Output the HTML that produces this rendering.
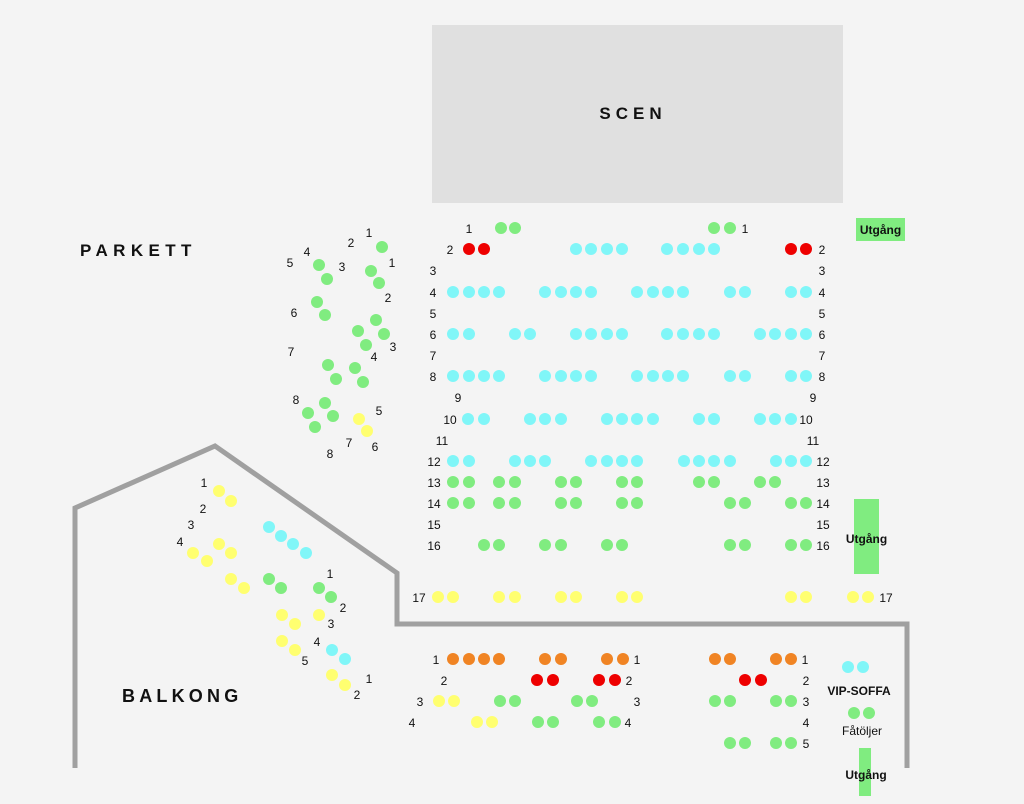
<!DOCTYPE html>
<html><head><meta charset="utf-8"><style>
html,body{margin:0;padding:0;background:#f4f4f4;}
svg{display:block;}
text{font-family:"Liberation Sans",Arial,sans-serif;font-size:12px;fill:#111;}
.b{font-weight:bold;}
.g{fill:#80ec80}.c{fill:#80f6f8}.y{fill:#ffff70}.r{fill:#ee0000}.o{fill:#f08424}
</style></head><body>
<svg width="1024" height="804" viewBox="0 0 1024 804" xmlns="http://www.w3.org/2000/svg">
<rect x="0" y="0" width="1024" height="804" fill="#f4f4f4"/>
<rect x="432" y="25" width="411" height="178" fill="#e0e0e0"/>
<text x="633" y="119" class="b" text-anchor="middle" style="font-size:17px;letter-spacing:5px">SCEN</text>
<text x="80" y="256" class="b" style="font-size:17px;letter-spacing:5.4px">PARKETT</text>
<text x="122" y="702" class="b" style="font-size:18px;letter-spacing:4.2px">BALKONG</text>
<rect x="856" y="218" width="49" height="23" fill="#80ec80"/>
<text x="880.5" y="234" class="b" text-anchor="middle">Utgång</text>
<rect x="854" y="499" width="25" height="75" fill="#80ec80"/>
<text x="866.5" y="543" class="b" text-anchor="middle">Utgång</text>
<rect x="859" y="748" width="12" height="48" fill="#80ec80"/>
<text x="866" y="779" class="b" text-anchor="middle">Utgång</text>
<polyline points="75,768 75,508 215,446 397,573 397,624 907,624 907,768" fill="none" stroke="#a0a0a0" stroke-width="5"/>

<g>
<circle class="g" cx="501" cy="228" r="6"/><circle class="g" cx="515" cy="228" r="6"/>
<circle class="g" cx="714" cy="228" r="6"/><circle class="g" cx="730" cy="228" r="6"/>
<circle class="r" cx="469" cy="249" r="6"/><circle class="r" cx="484" cy="249" r="6"/>
<circle class="c" cx="576" cy="249" r="6"/><circle class="c" cx="591" cy="249" r="6"/><circle class="c" cx="607" cy="249" r="6"/><circle class="c" cx="622" cy="249" r="6"/>
<circle class="c" cx="667" cy="249" r="6"/><circle class="c" cx="683" cy="249" r="6"/><circle class="c" cx="699" cy="249" r="6"/><circle class="c" cx="714" cy="249" r="6"/>
<circle class="r" cx="791" cy="249" r="6"/><circle class="r" cx="806" cy="249" r="6"/>
<circle class="c" cx="453" cy="292" r="6"/><circle class="c" cx="469" cy="292" r="6"/><circle class="c" cx="484" cy="292" r="6"/><circle class="c" cx="499" cy="292" r="6"/>
<circle class="c" cx="545" cy="292" r="6"/><circle class="c" cx="561" cy="292" r="6"/><circle class="c" cx="576" cy="292" r="6"/><circle class="c" cx="591" cy="292" r="6"/>
<circle class="c" cx="637" cy="292" r="6"/><circle class="c" cx="653" cy="292" r="6"/><circle class="c" cx="668" cy="292" r="6"/><circle class="c" cx="683" cy="292" r="6"/>
<circle class="c" cx="730" cy="292" r="6"/><circle class="c" cx="745" cy="292" r="6"/>
<circle class="c" cx="791" cy="292" r="6"/><circle class="c" cx="806" cy="292" r="6"/>
<circle class="c" cx="453" cy="334" r="6"/><circle class="c" cx="469" cy="334" r="6"/>
<circle class="c" cx="515" cy="334" r="6"/><circle class="c" cx="530" cy="334" r="6"/>
<circle class="c" cx="576" cy="334" r="6"/><circle class="c" cx="591" cy="334" r="6"/><circle class="c" cx="607" cy="334" r="6"/><circle class="c" cx="622" cy="334" r="6"/>
<circle class="c" cx="667" cy="334" r="6"/><circle class="c" cx="683" cy="334" r="6"/><circle class="c" cx="699" cy="334" r="6"/><circle class="c" cx="714" cy="334" r="6"/>
<circle class="c" cx="760" cy="334" r="6"/><circle class="c" cx="775" cy="334" r="6"/><circle class="c" cx="791" cy="334" r="6"/><circle class="c" cx="806" cy="334" r="6"/>
<circle class="c" cx="453" cy="376" r="6"/><circle class="c" cx="469" cy="376" r="6"/><circle class="c" cx="484" cy="376" r="6"/><circle class="c" cx="499" cy="376" r="6"/>
<circle class="c" cx="545" cy="376" r="6"/><circle class="c" cx="561" cy="376" r="6"/><circle class="c" cx="576" cy="376" r="6"/><circle class="c" cx="591" cy="376" r="6"/>
<circle class="c" cx="637" cy="376" r="6"/><circle class="c" cx="653" cy="376" r="6"/><circle class="c" cx="668" cy="376" r="6"/><circle class="c" cx="683" cy="376" r="6"/>
<circle class="c" cx="730" cy="376" r="6"/><circle class="c" cx="745" cy="376" r="6"/>
<circle class="c" cx="791" cy="376" r="6"/><circle class="c" cx="806" cy="376" r="6"/>
<circle class="c" cx="468" cy="419" r="6"/><circle class="c" cx="484" cy="419" r="6"/>
<circle class="c" cx="530" cy="419" r="6"/><circle class="c" cx="545" cy="419" r="6"/><circle class="c" cx="561" cy="419" r="6"/>
<circle class="c" cx="607" cy="419" r="6"/><circle class="c" cx="622" cy="419" r="6"/><circle class="c" cx="637" cy="419" r="6"/><circle class="c" cx="653" cy="419" r="6"/>
<circle class="c" cx="699" cy="419" r="6"/><circle class="c" cx="714" cy="419" r="6"/>
<circle class="c" cx="760" cy="419" r="6"/><circle class="c" cx="775" cy="419" r="6"/><circle class="c" cx="791" cy="419" r="6"/>
<circle class="c" cx="453" cy="461" r="6"/><circle class="c" cx="469" cy="461" r="6"/>
<circle class="c" cx="515" cy="461" r="6"/><circle class="c" cx="530" cy="461" r="6"/><circle class="c" cx="545" cy="461" r="6"/>
<circle class="c" cx="591" cy="461" r="6"/><circle class="c" cx="607" cy="461" r="6"/><circle class="c" cx="622" cy="461" r="6"/><circle class="c" cx="637" cy="461" r="6"/>
<circle class="c" cx="684" cy="461" r="6"/><circle class="c" cx="699" cy="461" r="6"/><circle class="c" cx="714" cy="461" r="6"/><circle class="c" cx="730" cy="461" r="6"/>
<circle class="c" cx="776" cy="461" r="6"/><circle class="c" cx="791" cy="461" r="6"/><circle class="c" cx="806" cy="461" r="6"/>
<circle class="g" cx="453" cy="482" r="6"/><circle class="g" cx="469" cy="482" r="6"/>
<circle class="g" cx="499" cy="482" r="6"/><circle class="g" cx="515" cy="482" r="6"/>
<circle class="g" cx="561" cy="482" r="6"/><circle class="g" cx="576" cy="482" r="6"/>
<circle class="g" cx="622" cy="482" r="6"/><circle class="g" cx="637" cy="482" r="6"/>
<circle class="g" cx="699" cy="482" r="6"/><circle class="g" cx="714" cy="482" r="6"/>
<circle class="g" cx="760" cy="482" r="6"/><circle class="g" cx="775" cy="482" r="6"/>
<circle class="g" cx="453" cy="503" r="6"/><circle class="g" cx="469" cy="503" r="6"/>
<circle class="g" cx="499" cy="503" r="6"/><circle class="g" cx="515" cy="503" r="6"/>
<circle class="g" cx="561" cy="503" r="6"/><circle class="g" cx="576" cy="503" r="6"/>
<circle class="g" cx="622" cy="503" r="6"/><circle class="g" cx="637" cy="503" r="6"/>
<circle class="g" cx="730" cy="503" r="6"/><circle class="g" cx="745" cy="503" r="6"/>
<circle class="g" cx="791" cy="503" r="6"/><circle class="g" cx="806" cy="503" r="6"/>
<circle class="g" cx="484" cy="545" r="6"/><circle class="g" cx="499" cy="545" r="6"/>
<circle class="g" cx="545" cy="545" r="6"/><circle class="g" cx="561" cy="545" r="6"/>
<circle class="g" cx="607" cy="545" r="6"/><circle class="g" cx="622" cy="545" r="6"/>
<circle class="g" cx="730" cy="545" r="6"/><circle class="g" cx="745" cy="545" r="6"/>
<circle class="g" cx="791" cy="545" r="6"/><circle class="g" cx="806" cy="545" r="6"/>
<circle class="y" cx="438" cy="597" r="6"/><circle class="y" cx="453" cy="597" r="6"/>
<circle class="y" cx="499" cy="597" r="6"/><circle class="y" cx="515" cy="597" r="6"/>
<circle class="y" cx="561" cy="597" r="6"/><circle class="y" cx="576" cy="597" r="6"/>
<circle class="y" cx="622" cy="597" r="6"/><circle class="y" cx="637" cy="597" r="6"/>
<circle class="y" cx="791" cy="597" r="6"/><circle class="y" cx="806" cy="597" r="6"/>
<circle class="y" cx="853" cy="597" r="6"/><circle class="y" cx="868" cy="597" r="6"/>
</g>
<g text-anchor="middle">
<text x="469" y="233">1</text><text x="745" y="233">1</text>
<text x="450" y="254">2</text><text x="822" y="254">2</text>
<text x="433" y="275">3</text><text x="822" y="275">3</text>
<text x="433" y="297">4</text><text x="822" y="297">4</text>
<text x="433" y="318">5</text><text x="822" y="318">5</text>
<text x="433" y="339">6</text><text x="822" y="339">6</text>
<text x="433" y="360">7</text><text x="822" y="360">7</text>
<text x="433" y="381">8</text><text x="822" y="381">8</text>
<text x="458" y="402">9</text><text x="813" y="402">9</text>
<text x="450" y="424">10</text><text x="806" y="424">10</text>
<text x="442" y="445">11</text><text x="813" y="445">11</text>
<text x="434" y="466">12</text><text x="823" y="466">12</text>
<text x="434" y="487">13</text><text x="823" y="487">13</text>
<text x="434" y="508">14</text><text x="823" y="508">14</text>
<text x="434" y="529">15</text><text x="823" y="529">15</text>
<text x="434" y="550">16</text><text x="823" y="550">16</text>
<text x="419" y="602">17</text><text x="886" y="602">17</text>
</g>

<g>
<circle class="g" cx="382" cy="247" r="6"/><circle class="g" cx="371" cy="271" r="6"/><circle class="g" cx="379" cy="283" r="6"/>
<circle class="g" cx="319" cy="265" r="6"/><circle class="g" cx="327" cy="279" r="6"/>
<circle class="g" cx="317" cy="302" r="6"/><circle class="g" cx="325" cy="315" r="6"/>
<circle class="g" cx="376" cy="320" r="6"/><circle class="g" cx="358" cy="331" r="6"/><circle class="g" cx="384" cy="334" r="6"/><circle class="g" cx="366" cy="345" r="6"/>
<circle class="g" cx="328" cy="365" r="6"/><circle class="g" cx="336" cy="379" r="6"/>
<circle class="g" cx="355" cy="368" r="6"/><circle class="g" cx="363" cy="382" r="6"/>
<circle class="g" cx="325" cy="403" r="6"/><circle class="g" cx="308" cy="413" r="6"/><circle class="g" cx="333" cy="416" r="6"/><circle class="g" cx="315" cy="427" r="6"/>
<circle class="y" cx="359" cy="419" r="6"/><circle class="y" cx="367" cy="431" r="6"/>
</g>
<g text-anchor="middle">
<text x="369" y="237">1</text><text x="351" y="247">2</text><text x="307" y="256">4</text><text x="290" y="267">5</text>
<text x="342" y="271">3</text><text x="392" y="267">1</text><text x="388" y="302">2</text><text x="294" y="317">6</text>
<text x="393" y="351">3</text><text x="374" y="361">4</text><text x="291" y="356">7</text><text x="296" y="404">8</text>
<text x="379" y="415">5</text><text x="349" y="447">7</text><text x="375" y="451">6</text><text x="330" y="458">8</text>
</g>

<g>
<circle class="y" cx="219" cy="491" r="6"/><circle class="y" cx="231" cy="501" r="6"/>
<circle class="y" cx="193" cy="553" r="6"/><circle class="y" cx="207" cy="561" r="6"/>
<circle class="y" cx="219" cy="544" r="6"/><circle class="y" cx="231" cy="553" r="6"/>
<circle class="y" cx="231" cy="579" r="6"/><circle class="y" cx="244" cy="588" r="6"/>
<circle class="c" cx="269" cy="527" r="6"/><circle class="c" cx="281" cy="536" r="6"/><circle class="c" cx="293" cy="544" r="6"/><circle class="c" cx="306" cy="553" r="6"/>
<circle class="g" cx="269" cy="579" r="6"/><circle class="g" cx="281" cy="588" r="6"/>
<circle class="g" cx="319" cy="588" r="6"/><circle class="g" cx="331" cy="597" r="6"/>
<circle class="y" cx="282" cy="615" r="6"/><circle class="y" cx="295" cy="624" r="6"/><circle class="y" cx="319" cy="615" r="6"/>
<circle class="y" cx="282" cy="641" r="6"/><circle class="y" cx="295" cy="650" r="6"/>
<circle class="c" cx="332" cy="650" r="6"/><circle class="c" cx="345" cy="659" r="6"/>
<circle class="y" cx="332" cy="675" r="6"/><circle class="y" cx="345" cy="685" r="6"/>
</g>
<g text-anchor="middle">
<text x="204" y="487">1</text><text x="203" y="513">2</text><text x="191" y="529">3</text><text x="180" y="546">4</text>
<text x="330" y="578">1</text><text x="343" y="612">2</text><text x="331" y="628">3</text><text x="317" y="646">4</text>
<text x="305" y="665">5</text><text x="369" y="683">1</text><text x="357" y="699">2</text>
</g>

<g>
<circle class="o" cx="453" cy="659" r="6"/><circle class="o" cx="469" cy="659" r="6"/><circle class="o" cx="484" cy="659" r="6"/><circle class="o" cx="499" cy="659" r="6"/>
<circle class="o" cx="545" cy="659" r="6"/><circle class="o" cx="561" cy="659" r="6"/>
<circle class="o" cx="607" cy="659" r="6"/><circle class="o" cx="623" cy="659" r="6"/>
<circle class="o" cx="715" cy="659" r="6"/><circle class="o" cx="730" cy="659" r="6"/>
<circle class="o" cx="776" cy="659" r="6"/><circle class="o" cx="791" cy="659" r="6"/>
<circle class="r" cx="537" cy="680" r="6"/><circle class="r" cx="553" cy="680" r="6"/>
<circle class="r" cx="599" cy="680" r="6"/><circle class="r" cx="615" cy="680" r="6"/>
<circle class="r" cx="745" cy="680" r="6"/><circle class="r" cx="761" cy="680" r="6"/>
<circle class="y" cx="439" cy="701" r="6"/><circle class="y" cx="454" cy="701" r="6"/>
<circle class="g" cx="500" cy="701" r="6"/><circle class="g" cx="515" cy="701" r="6"/>
<circle class="g" cx="577" cy="701" r="6"/><circle class="g" cx="592" cy="701" r="6"/>
<circle class="g" cx="715" cy="701" r="6"/><circle class="g" cx="730" cy="701" r="6"/>
<circle class="g" cx="776" cy="701" r="6"/><circle class="g" cx="791" cy="701" r="6"/>
<circle class="y" cx="477" cy="722" r="6"/><circle class="y" cx="492" cy="722" r="6"/>
<circle class="g" cx="538" cy="722" r="6"/><circle class="g" cx="553" cy="722" r="6"/>
<circle class="g" cx="599" cy="722" r="6"/><circle class="g" cx="615" cy="722" r="6"/>
<circle class="g" cx="730" cy="743" r="6"/><circle class="g" cx="745" cy="743" r="6"/>
<circle class="g" cx="776" cy="743" r="6"/><circle class="g" cx="791" cy="743" r="6"/>
<circle class="c" cx="848" cy="667" r="6"/><circle class="c" cx="863" cy="667" r="6"/>
<circle class="g" cx="854" cy="713" r="6"/><circle class="g" cx="869" cy="713" r="6"/>
</g>
<g text-anchor="middle">
<text x="436" y="664">1</text><text x="637" y="664">1</text><text x="805" y="664">1</text>
<text x="444" y="685">2</text><text x="629" y="685">2</text><text x="806" y="685">2</text>
<text x="420" y="706">3</text><text x="637" y="706">3</text><text x="806" y="706">3</text>
<text x="412" y="727">4</text><text x="628" y="727">4</text><text x="806" y="727">4</text>
<text x="806" y="748">5</text>
<text x="859" y="695" class="b">VIP-SOFFA</text>
<text x="862" y="735">Fåtöljer</text>
</g>
</svg>
</body></html>
